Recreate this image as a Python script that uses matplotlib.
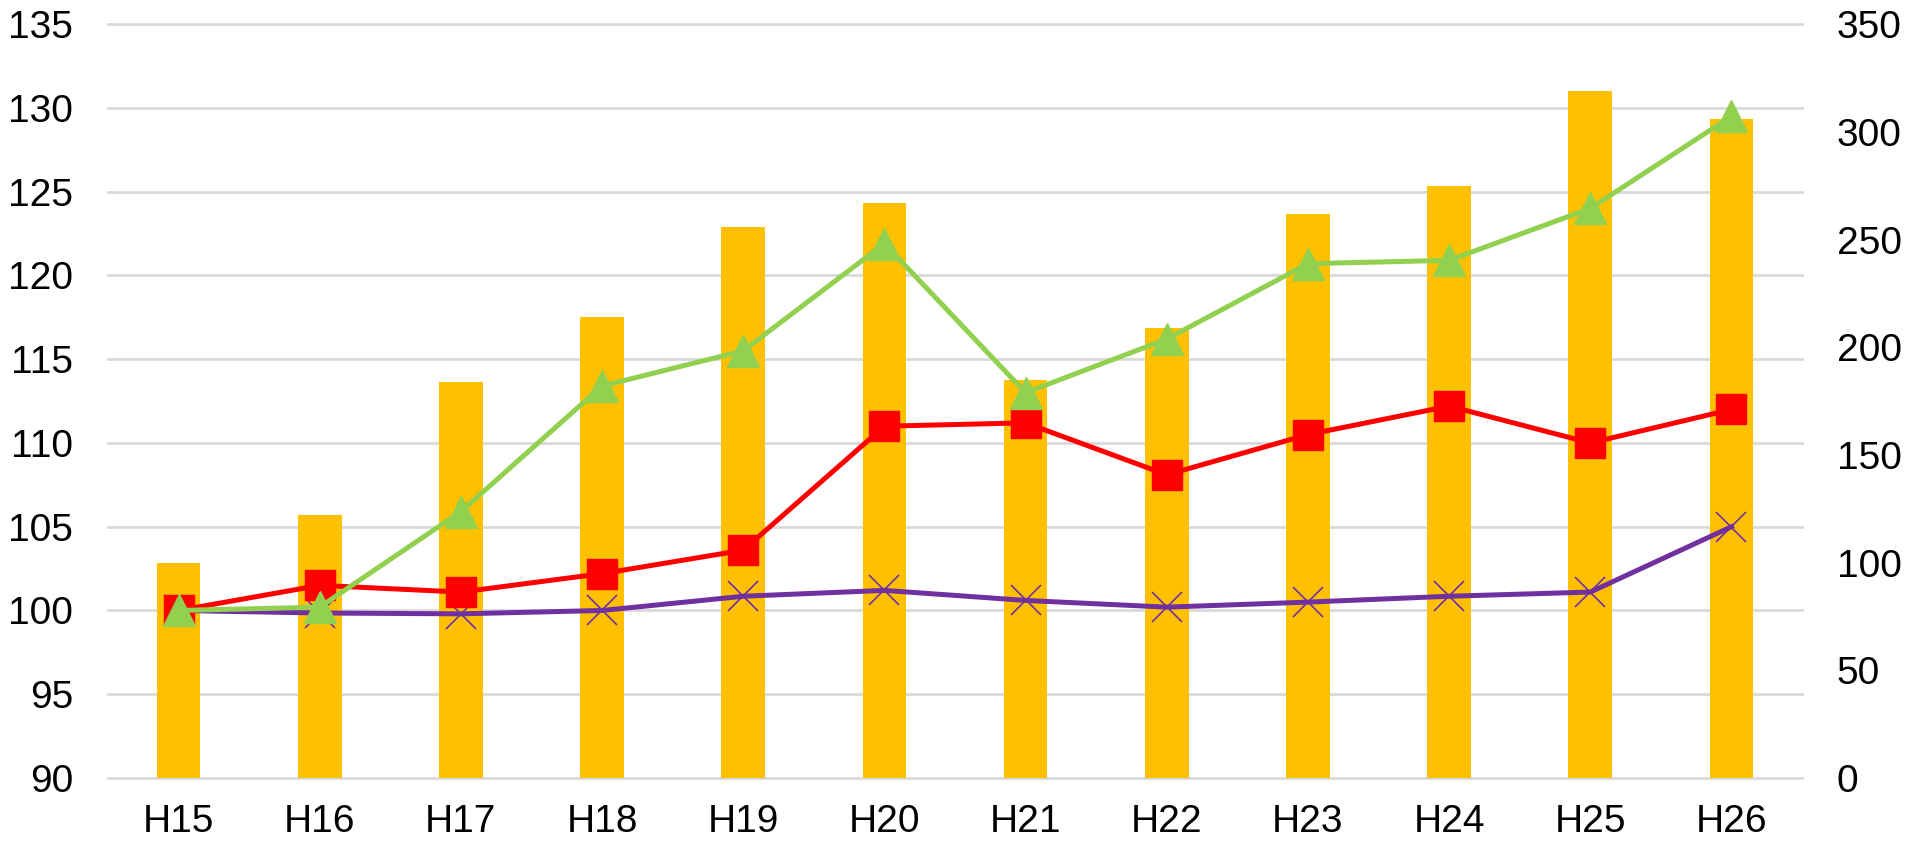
import matplotlib
matplotlib.use("Agg")
import matplotlib.pyplot as plt

plt.rcParams['font.family'] = ['Liberation Sans', 'DejaVu Sans']

years = ["H15", "H16", "H17", "H18", "H19", "H20", "H21", "H22", "H23", "H24", "H25", "H26"]
bar_vals = [100, 122, 184, 214, 256, 267, 185, 209, 262, 275, 319, 306]
green_vals = [100.0, 100.2, 105.9, 113.4, 115.5, 121.9, 113.0, 116.2, 120.7, 120.9, 124.0, 129.5]
red_vals = [100.0, 101.5, 101.1, 102.2, 103.6, 111.0, 111.2, 108.1, 110.5, 112.2, 110.0, 112.0]
purple_vals = [100.0, 99.85, 99.8, 100.0, 100.85, 101.2, 100.6, 100.2, 100.5, 100.85, 101.1, 105.0]
left_ticks = list(range(90, 136, 5))
right_ticks = list(range(0, 351, 50))

fig = plt.figure(figsize=(19.1, 8.49), dpi=100)
ax = fig.add_axes([0.0565, 0.0836, 0.887, 0.888])
ax2 = ax.twinx()

x = range(len(years))

# bars on right axis, behind lines
ax2.bar(x, bar_vals, width=0.31, color="#FFC000", zorder=2)
ax2.set_ylim(0, 350)
ax2.set_yticks(right_ticks)

ax.set_ylim(90, 135)
ax.set_yticks(left_ticks)
ax.set_xlim(-0.5, len(years) - 0.5)
ax.set_xticks(list(x))
ax.set_xticklabels(years)

# gridlines follow the left axis but sit behind the bars
for v in left_ticks:
    ax2.plot([0, 1], [v, v], transform=ax.get_yaxis_transform(),
             color="#D9D9D9", linewidth=2, zorder=1, clip_on=False)

# put line axis on top of the bar axis
ax.set_zorder(ax2.get_zorder() + 1)
ax.patch.set_visible(False)
ax2.patch.set_visible(True)
ax2.patch.set_facecolor("white")

ax.plot(x, purple_vals, color="#7030A0", linewidth=3.6, marker="x", markersize=21,
        markeredgewidth=1.2, zorder=3)
ax.plot(x, red_vals, color="#FF0000", linewidth=3.6, marker="s", markersize=22, zorder=4)
ax.plot(x, green_vals, color="#92D050", linewidth=3.6, marker="^", markersize=23, zorder=5)

for a in (ax, ax2):
    for s in a.spines.values():
        s.set_visible(False)
    a.tick_params(length=0, labelsize=28, colors="black")
ax.tick_params(axis="y", pad=25)
ax.tick_params(axis="x", pad=19)
ax2.tick_params(axis="y", pad=25)

fig.savefig("out.png", dpi=100)
